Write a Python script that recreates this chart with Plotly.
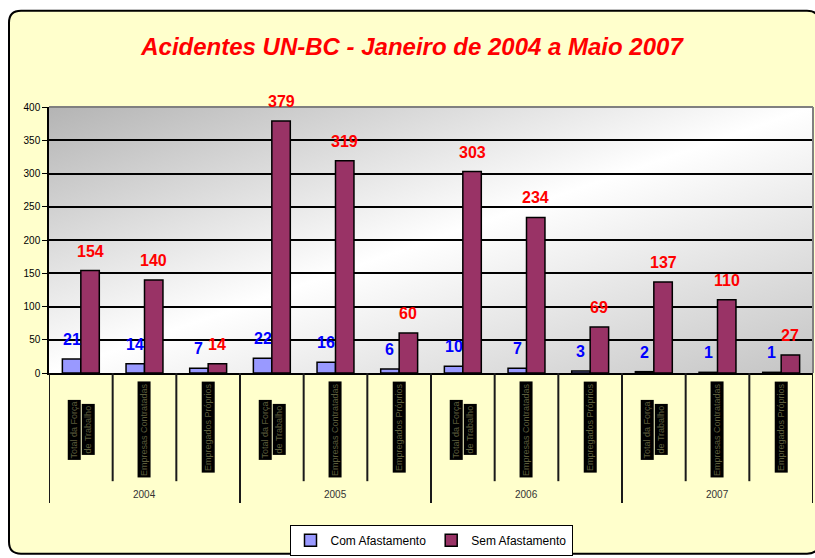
import base64
import plotly.graph_objects as go

# dados
anos = ["2004", "2005", "2006", "2007"]
rotulos = [["Total da Força", "de Trabalho"], ["Empresas Contratadas"], ["Empregados Próprios"]]
com_afastamento = [21, 14, 7, 22, 16, 6, 10, 7, 3, 2, 1, 1]
sem_afastamento = [154, 140, 14, 379, 319, 60, 303, 234, 69, 137, 110, 27]
y_ticks = [0, 50, 100, 150, 200, 250, 300, 350, 400]

W, H = 815, 558
L, R, T, B = 49, 2, 107, 183
PW = W - L - R
PH = H - T - B
BARGAP = 0.42


def px(x):
    return (x - L) / PW


def py(y):
    return (T + PH - y) / PH


xs = list(range(len(com_afastamento)))
n_per_year = len(rotulos)

fig = go.Figure()
fig.add_trace(go.Bar(x=xs, y=com_afastamento, name="Com Afastamento",
                     marker=dict(color="#9999ff", line=dict(color="black", width=1.5))))
fig.add_trace(go.Bar(x=xs, y=sem_afastamento, name="Sem Afastamento",
                     marker=dict(color="#993366", line=dict(color="black", width=1.5))))

# valores acima das barras
half = PW / len(xs) * (1 - BARGAP) / 4
annotations = []
for i in xs:
    annotations.append(dict(x=i, y=com_afastamento[i], xref="x", yref="y", text=str(com_afastamento[i]),
                            xshift=-half, yshift=9, yanchor="bottom", showarrow=False,
                            font=dict(size=16, color="#0000ff", family="Arial", weight="bold")))
    annotations.append(dict(x=i, y=sem_afastamento[i], xref="x", yref="y", text=str(sem_afastamento[i]),
                            xshift=half, yshift=9, yanchor="bottom", showarrow=False,
                            font=dict(size=16, color="#ff0000", family="Arial", weight="bold")))

# rotulos de categoria (girados, fundo preto)
lab_font = dict(size=9, color="#5c5c3c", family="Arial")
for i in xs:
    linhas = rotulos[i % n_per_year]
    if len(linhas) == 2:
        for j, t in enumerate(linhas):
            annotations.append(dict(x=i, y=py(432), xref="x", yref="paper", text=t, textangle=-90,
                                    xshift=-7 + 14 * j, yanchor="middle", showarrow=False,
                                    bgcolor="black", borderpad=1, font=lab_font))
    else:
        annotations.append(dict(x=i, y=py(383), xref="x", yref="paper", text=linhas[0], textangle=-90,
                                yanchor="top", showarrow=False, bgcolor="black", borderpad=1, font=lab_font))

for k, ano in enumerate(anos):
    annotations.append(dict(x=k * n_per_year + (n_per_year - 1) / 2, y=py(497), xref="x", yref="paper",
                            text=ano, showarrow=False, yanchor="middle",
                            font=dict(size=10, color="#333333", family="Arial")))

shapes = []
# moldura amarela arredondada (lado direito fica fora da imagem)
x0, x1, y0, y1, r = px(9), px(819), py(10), py(557), 12
rx, ry = r / PW, r / PH
path = (f"M{x0 + rx},{y0} L{x1 - rx},{y0} Q{x1},{y0} {x1},{y0 - ry} "
        f"L{x1},{y1 + ry} Q{x1},{y1} {x1 - rx},{y1} L{x0 + rx},{y1} "
        f"Q{x0},{y1} {x0},{y1 + ry} L{x0},{y0 - ry} Q{x0},{y0} {x0 + rx},{y0} Z")
shapes.append(dict(type="path", xref="paper", yref="paper", path=path, layer="below",
                   fillcolor="#ffffcc", line=dict(color="black", width=2)))

# divisórias do eixo x
for k in range(len(xs) + 1):
    fim = 506 if k % n_per_year == 0 else 484
    shapes.append(dict(type="line", xref="x", yref="paper", x0=k - 0.5, x1=k - 0.5, y0=0, y1=py(fim),
                       line=dict(color="#1a1a1a", width=2)))

# borda cinza do plot
shapes.append(dict(type="line", xref="x domain", yref="y domain", x0=0, x1=1, y0=1, y1=1,
                   line=dict(color="#808080", width=2)))
shapes.append(dict(type="line", xref="x domain", yref="y domain", x0=1, x1=1, y0=0, y1=1,
                   line=dict(color="#808080", width=2)))

svg = ('<svg xmlns="http://www.w3.org/2000/svg" width="100" height="100" viewBox="0 0 100 100" '
       'preserveAspectRatio="none"><defs><linearGradient id="g" x1="0" y1="0" x2="1" y2="1">'
       '<stop offset="0" stop-color="#b4b4b4"/><stop offset="0.5" stop-color="#ffffff"/>'
       '<stop offset="1" stop-color="#c4c4c4"/></linearGradient></defs>'
       '<rect width="100" height="100" fill="url(#g)"/></svg>')
src = "data:image/svg+xml;base64," + base64.b64encode(svg.encode()).decode()

fig.update_layout(
    width=W, height=H, autosize=False,
    margin=dict(l=L, r=R, t=T, b=B),
    paper_bgcolor="white", plot_bgcolor="rgba(0,0,0,0)",
    barmode="group", bargap=BARGAP, bargroupgap=0,
    font=dict(family="Arial", color="black"),
    title=dict(text="<b><i>Acidentes UN-BC - Janeiro de 2004 a Maio 2007</i></b>",
               font=dict(size=24, color="#ff0000", family="Arial"),
               x=412 / W, xanchor="center", y=1 - 47 / H, yanchor="middle",
               xref="container", yref="container"),
    showlegend=True,
    legend=dict(orientation="h", x=0.5, xanchor="center", y=py(528), yanchor="top",
                bgcolor="white", bordercolor="black", borderwidth=1,
                font=dict(size=12, family="Arial", color="black"), itemwidth=30),
    annotations=annotations,
    shapes=shapes,
    images=[dict(source=src, xref="x", yref="y", x=-0.5, y=400, sizex=len(xs), sizey=400,
                 xanchor="left", yanchor="top", sizing="stretch", layer="below")],
)
fig.update_xaxes(range=[-0.5, len(xs) - 0.5], showticklabels=False, showgrid=False, zeroline=False,
                 showline=True, linecolor="black", linewidth=2, ticks="")
fig.update_yaxes(range=[0, 400], tickvals=y_ticks, showgrid=True, gridcolor="black", gridwidth=1.5,
                 zeroline=False, showline=True, linecolor="black", linewidth=1.5,
                 ticks="outside", ticklen=5, tickcolor="black", tickwidth=1,
                 tickfont=dict(size=10, family="Arial", color="black"))

# page margin off so the figure sits at 0,0 like the reference
fig.write_html("out.html", config={"displayModeBar": False},
               post_script="document.body.style.margin='0';document.body.style.overflow='hidden';")
